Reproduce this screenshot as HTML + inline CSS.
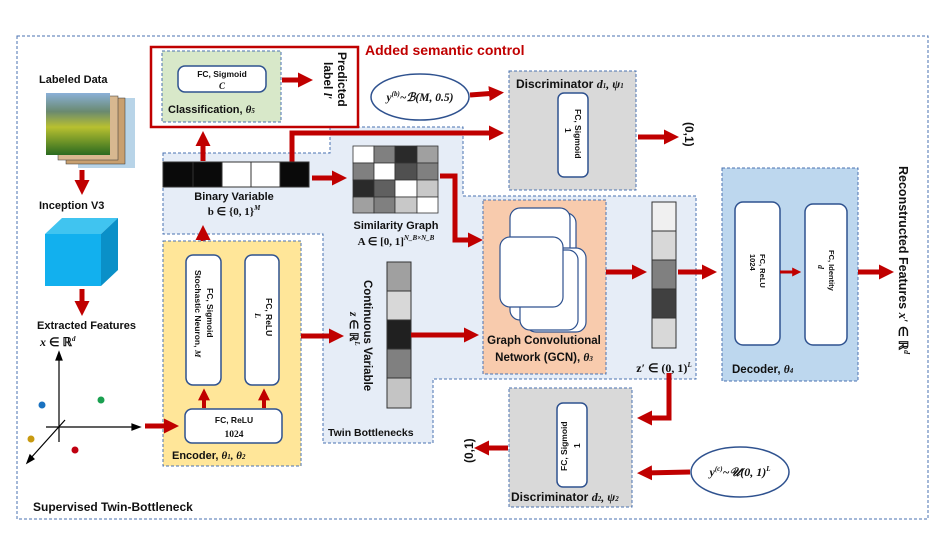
<!DOCTYPE html><html><head><meta charset="utf-8"><style>body{margin:0;background:#fff}svg{display:block}
text{font-family:"Liberation Sans",sans-serif;font-weight:bold;fill:#111}
.m{font-family:"Liberation Serif",serif;font-weight:bold;font-style:italic}
</style></head><body>
<svg width="952" height="535" viewBox="0 0 952 535" xmlns="http://www.w3.org/2000/svg">
<defs><marker id="a" markerWidth="3" markerHeight="3" refX="1.6" refY="1.5" orient="auto" markerUnits="strokeWidth"><path d="M0,0 L3,1.5 L0,3 z" fill="#c00000"/></marker></defs>
<rect x="17" y="36" width="911" height="483" fill="none" stroke="#4a72b0" stroke-dasharray="3,2"/>
<path d="M163,153 L330,153 L330,127 L463,127 L463,196 L696,196 L696,379 L433,379 L433,443 L323,443 L323,234 L163,234 Z" fill="#e6edf7" stroke="#4a72b0" stroke-dasharray="3,2"/>
<rect x="151" y="47" width="207" height="80" fill="#fff" stroke="#c00000" stroke-width="2.5"/>
<rect x="162" y="51" width="119" height="71" fill="#d8e8c9" stroke="#4a72b0" stroke-dasharray="3,2"/>
<rect x="178" y="66" width="88" height="26" rx="7" fill="#fff" stroke="#2f528f" stroke-width="1.5"/>
<text x="222" y="77" font-size="8.5" text-anchor="middle" font-weight="normal">FC, Sigmoid</text>
<text x="222" y="89" font-size="9" text-anchor="middle" class="m">C</text>
<text x="168" y="113" font-size="11">Classification, <tspan class="m">θ</tspan><tspan class="m" font-size="7">5</tspan></text>
<line x1="282" y1="80" x2="306" y2="80" stroke="#c00000" stroke-width="5" marker-end="url(#a)"/>
<text transform="translate(338,52) rotate(90)" font-size="12">Predicted</text>
<text transform="translate(324,62) rotate(90)" font-size="12">label <tspan class="m">l′</tspan></text>
<text x="365" y="55" font-size="14" style="fill:#c00000">Added semantic control</text>
<ellipse cx="420" cy="97" rx="49" ry="23" fill="#fff" stroke="#2f528f" stroke-width="1.5"/>
<text x="420" y="101" font-size="11.5" text-anchor="middle" class="m">y<tspan font-size="7" dy="-5">(b)</tspan><tspan dy="5">~ℬ(M, 0.5)</tspan></text>
<line x1="470" y1="95" x2="497" y2="93" stroke="#c00000" stroke-width="5" marker-end="url(#a)"/>
<polyline points="292,162 292,133 497,133" fill="none" stroke="#c00000" stroke-width="5" marker-end="url(#a)"/>
<rect x="509" y="71" width="127" height="119" fill="#d9d9d9" stroke="#4a72b0" stroke-dasharray="3,2"/>
<text x="516" y="88" font-size="12">Discriminator <tspan class="m">d</tspan><tspan class="m" font-size="7">1</tspan><tspan class="m">, ψ</tspan><tspan class="m" font-size="7">1</tspan></text>
<rect x="558" y="93" width="30" height="84" rx="6" fill="#fff" stroke="#2f528f" stroke-width="1.5"/>
<text transform="translate(575,109) rotate(90)" font-size="8.5" font-weight="normal">FC, Sigmoid</text>
<text transform="translate(565,128) rotate(90)" font-size="8.5" font-weight="normal">1</text>
<line x1="638" y1="137" x2="672" y2="137" stroke="#c00000" stroke-width="5" marker-end="url(#a)"/>
<text transform="translate(685,122) rotate(90)" font-size="12">(0,1)</text>
<g stroke="#333" stroke-width="1">
<rect x="163" y="162" width="30" height="25" fill="#0a0a0a"/><rect x="193" y="162" width="29" height="25" fill="#0a0a0a"/>
<rect x="222" y="162" width="29" height="25" fill="#fff"/><rect x="251" y="162" width="29" height="25" fill="#fff"/>
<rect x="280" y="162" width="29" height="25" fill="#0a0a0a"/></g>
<text x="234" y="200" font-size="11" text-anchor="middle">Binary Variable</text>
<text x="234" y="215" font-size="11" text-anchor="middle" class="m" style="font-style:normal">b ∈ {0, 1}<tspan font-size="7" dy="-5" font-style="italic">M</tspan></text>
<line x1="203" y1="161" x2="203" y2="138" stroke="#c00000" stroke-width="5" marker-end="url(#a)"/>
<line x1="203" y1="254" x2="203" y2="232" stroke="#c00000" stroke-width="5" marker-end="url(#a)"/>
<line x1="312" y1="178" x2="340" y2="178" stroke="#c00000" stroke-width="5" marker-end="url(#a)"/>
<g stroke="#333" stroke-width="0.8">
<rect x="353" y="146" width="21" height="17" fill="#fff"/><rect x="374" y="146" width="21" height="17" fill="#808080"/><rect x="395" y="146" width="22" height="17" fill="#2a2a2a"/><rect x="417" y="146" width="21" height="17" fill="#a0a0a0"/>
<rect x="353" y="163" width="21" height="17" fill="#808080"/><rect x="374" y="163" width="21" height="17" fill="#fff"/><rect x="395" y="163" width="22" height="17" fill="#505050"/><rect x="417" y="163" width="21" height="17" fill="#808080"/>
<rect x="353" y="180" width="21" height="17" fill="#2a2a2a"/><rect x="374" y="180" width="21" height="17" fill="#606060"/><rect x="395" y="180" width="22" height="17" fill="#fff"/><rect x="417" y="180" width="21" height="17" fill="#c8c8c8"/>
<rect x="353" y="197" width="21" height="16" fill="#a0a0a0"/><rect x="374" y="197" width="21" height="16" fill="#808080"/><rect x="395" y="197" width="22" height="16" fill="#c8c8c8"/><rect x="417" y="197" width="21" height="16" fill="#fff"/></g>
<text x="396" y="229" font-size="11" text-anchor="middle">Similarity Graph</text>
<text x="396" y="245" font-size="11" text-anchor="middle" class="m" style="font-style:normal">A ∈ [0, 1]<tspan font-size="7" dy="-5" font-style="italic">N_B×N_B</tspan></text>
<polyline points="440,176 455,176 455,240 476,240" fill="none" stroke="#c00000" stroke-width="5" marker-end="url(#a)"/>
<rect x="483" y="200" width="123" height="174" fill="#f8cbad" stroke="#4a72b0" stroke-dasharray="3,2"/>
<g fill="#fff" stroke="#2f528f" stroke-width="1.2">
<rect x="520" y="213" width="56" height="110" rx="10"/>
<rect x="510" y="208" width="60" height="112" rx="10"/>
<rect x="526" y="248" width="60" height="84" rx="10"/>
<rect x="520" y="250" width="58" height="80" rx="10"/>
<rect x="500" y="237" width="63" height="70" rx="10"/></g>
<text x="544" y="344" font-size="11.5" text-anchor="middle">Graph Convolutional</text>
<text x="544" y="361" font-size="11.5" text-anchor="middle">Network (GCN), <tspan class="m">θ</tspan><tspan class="m" font-size="7">3</tspan></text>
<line x1="606" y1="272" x2="640" y2="272" stroke="#c00000" stroke-width="5" marker-end="url(#a)"/>
<g stroke="#333"><rect x="652" y="202" width="24" height="29" fill="#f0f0f0"/><rect x="652" y="231" width="24" height="29" fill="#d8d8d8"/><rect x="652" y="260" width="24" height="29" fill="#808080"/><rect x="652" y="289" width="24" height="29" fill="#404040"/><rect x="652" y="318" width="24" height="30" fill="#d8d8d8"/></g>
<text x="664" y="372" font-size="12" text-anchor="middle" class="m" style="font-style:normal">z′ ∈ (0, 1)<tspan font-size="7" dy="-5" font-style="italic">L</tspan></text>
<line x1="678" y1="272" x2="710" y2="272" stroke="#c00000" stroke-width="5" marker-end="url(#a)"/>
<rect x="722" y="168" width="136" height="213" fill="#bdd7ee" stroke="#4a72b0" stroke-dasharray="3,2"/>
<rect x="735" y="202" width="45" height="143" rx="8" fill="#fff" stroke="#2f528f" stroke-width="1.5"/>
<rect x="805" y="204" width="42" height="141" rx="8" fill="#fff" stroke="#2f528f" stroke-width="1.5"/>
<text transform="translate(760,254) rotate(90)" font-size="7.5" font-weight="normal">FC, ReLU</text>
<text transform="translate(750,254) rotate(90)" font-size="7.5" font-weight="normal">1024</text>
<text transform="translate(829,250) rotate(90)" font-size="7.5" font-weight="normal">FC, Identity</text>
<text transform="translate(818,265) rotate(90)" font-size="8" class="m">d</text>
<line x1="780" y1="272" x2="797" y2="272" stroke="#c00000" stroke-width="3" marker-end="url(#a)"/>
<text x="732" y="373" font-size="11.5">Decoder, <tspan class="m">θ</tspan><tspan class="m" font-size="7">4</tspan></text>
<line x1="858" y1="272" x2="887" y2="272" stroke="#c00000" stroke-width="5" marker-end="url(#a)"/>
<text transform="translate(899,166) rotate(90)" font-size="12.5">Reconstructed Features <tspan class="m">x′</tspan> ∈ ℝ<tspan class="m" font-size="8" dy="-5">d</tspan></text>
<rect x="163" y="241" width="138" height="225" fill="#ffe699" stroke="#4a72b0" stroke-dasharray="3,2"/>
<rect x="186" y="255" width="35" height="130" rx="7" fill="#fff" stroke="#2f528f" stroke-width="1.5"/>
<rect x="245" y="255" width="34" height="130" rx="7" fill="#fff" stroke="#2f528f" stroke-width="1.5"/>
<text transform="translate(207,288) rotate(90)" font-size="8.5" font-weight="normal">FC, Sigmoid</text>
<text transform="translate(195,270) rotate(90)" font-size="8.5" font-weight="normal">Stochastic Neuron, <tspan class="m" font-weight="bold">M</tspan></text>
<text transform="translate(266,298) rotate(90)" font-size="8.5" font-weight="normal">FC, ReLU</text>
<text transform="translate(255,313) rotate(90)" font-size="8.5" class="m">L</text>
<rect x="185" y="409" width="97" height="34" rx="7" fill="#fff" stroke="#2f528f" stroke-width="1.5"/>
<text x="234" y="423" font-size="8.5" text-anchor="middle" font-weight="normal">FC, ReLU</text>
<text x="234" y="437" font-size="9.5" text-anchor="middle" style="font-family:'Liberation Serif',serif">1024</text>
<line x1="204" y1="408" x2="204" y2="394" stroke="#c00000" stroke-width="4" marker-end="url(#a)"/>
<line x1="264" y1="408" x2="264" y2="394" stroke="#c00000" stroke-width="4" marker-end="url(#a)"/>
<text x="172" y="459" font-size="11">Encoder, <tspan class="m">θ</tspan><tspan class="m" font-size="7">1</tspan><tspan class="m">, θ</tspan><tspan class="m" font-size="7">2</tspan></text>
<line x1="145" y1="426" x2="172" y2="426" stroke="#c00000" stroke-width="5" marker-end="url(#a)"/>
<line x1="301" y1="336" x2="337" y2="336" stroke="#c00000" stroke-width="5" marker-end="url(#a)"/>
<text transform="translate(364,280) rotate(90)" font-size="11.5">Continuous Variable</text>
<text transform="translate(350,312) rotate(90)" font-size="11.5" class="m">z <tspan style="font-style:normal">∈ ℝ</tspan><tspan font-size="7" dy="-5">L</tspan></text>
<g stroke="#333"><rect x="387" y="262" width="24" height="29" fill="#a0a0a0"/><rect x="387" y="291" width="24" height="29" fill="#d8d8d8"/><rect x="387" y="320" width="24" height="29" fill="#202020"/><rect x="387" y="349" width="24" height="29" fill="#808080"/><rect x="387" y="378" width="24" height="30" fill="#c4c4c4"/></g>
<line x1="411" y1="335" x2="472" y2="335" stroke="#c00000" stroke-width="5" marker-end="url(#a)"/>
<text x="328" y="436" font-size="10.5">Twin Bottlenecks</text>
<polyline points="669,373 669,418 644,418" fill="none" stroke="#c00000" stroke-width="5" marker-end="url(#a)"/>
<rect x="509" y="388" width="123" height="119" fill="#d9d9d9" stroke="#4a72b0" stroke-dasharray="3,2"/>
<rect x="557" y="403" width="30" height="84" rx="6" fill="#fff" stroke="#2f528f" stroke-width="1.5"/>
<text transform="translate(567,471) rotate(-90)" font-size="8.5" font-weight="normal">FC, Sigmoid</text>
<text transform="translate(580,448) rotate(-90)" font-size="8.5" font-weight="normal">1</text>
<text x="511" y="501" font-size="12">Discriminator <tspan class="m">d</tspan><tspan class="m" font-size="7">2</tspan><tspan class="m">, ψ</tspan><tspan class="m" font-size="7">2</tspan></text>
<line x1="508" y1="448" x2="481" y2="448" stroke="#c00000" stroke-width="5" marker-end="url(#a)"/>
<text transform="translate(473,463) rotate(-90)" font-size="12">(0,1)</text>
<ellipse cx="740" cy="472" rx="49" ry="25" fill="#fff" stroke="#2f528f" stroke-width="1.5"/>
<text x="740" y="476" font-size="12" text-anchor="middle" class="m">y<tspan font-size="7" dy="-5">(c)</tspan><tspan dy="5">~𝒰(0, 1)</tspan><tspan font-size="7" dy="-5">L</tspan></text>
<line x1="690" y1="472" x2="644" y2="473" stroke="#c00000" stroke-width="5" marker-end="url(#a)"/>
<text x="39" y="83" font-size="11">Labeled Data</text>
<rect x="78" y="98" width="57" height="70" fill="#b8d4e8"/>
<rect x="66" y="98" width="59" height="66" fill="#c8a070" stroke="#333" stroke-width="0.5"/>
<rect x="58" y="96" width="60" height="64" fill="#d8b890" stroke="#333" stroke-width="0.5"/>
<defs><linearGradient id="ls" x1="0" y1="0" x2="0" y2="1"><stop offset="0" stop-color="#8ab0d8"/><stop offset="0.3" stop-color="#6a8a70"/><stop offset="0.55" stop-color="#b8c030"/><stop offset="1" stop-color="#2a6a20"/></linearGradient></defs>
<rect x="46" y="93" width="64" height="62" fill="url(#ls)"/>
<line x1="82" y1="170" x2="82" y2="188" stroke="#c00000" stroke-width="5" marker-end="url(#a)"/>
<text x="39" y="209" font-size="11">Inception V3</text>
<polygon points="45,234 62,218 118,218 101,234" fill="#40c4f0"/>
<polygon points="101,234 118,218 118,270 101,286" fill="#0a90c8"/>
<rect x="45" y="234" width="56" height="52" fill="#12b0ee"/>
<line x1="82" y1="289" x2="82" y2="309" stroke="#c00000" stroke-width="5" marker-end="url(#a)"/>
<text x="37" y="329" font-size="11">Extracted Features</text>
<text x="40" y="346" font-size="12" class="m">x <tspan style="font-style:normal">∈ ℝ</tspan><tspan font-size="7" dy="-5">d</tspan></text>
<g stroke="#000" stroke-width="1.2" fill="#000">
<line x1="59" y1="442" x2="59" y2="358"/><polygon points="56,360 59,352 62,360"/>
<line x1="46" y1="427" x2="133" y2="427"/><polygon points="132,424 140,427 132,430"/>
<line x1="65" y1="420" x2="30" y2="459"/><polygon points="27,463 30,455 34,459"/></g>
<circle cx="42" cy="405" r="3.5" fill="#1a72c0"/><circle cx="101" cy="400" r="3.5" fill="#1aa050"/>
<circle cx="31" cy="439" r="3.5" fill="#c89a10"/><circle cx="75" cy="450" r="3.5" fill="#c00010"/>
<text x="33" y="511" font-size="12">Supervised Twin-Bottleneck</text>
</svg></body></html>
